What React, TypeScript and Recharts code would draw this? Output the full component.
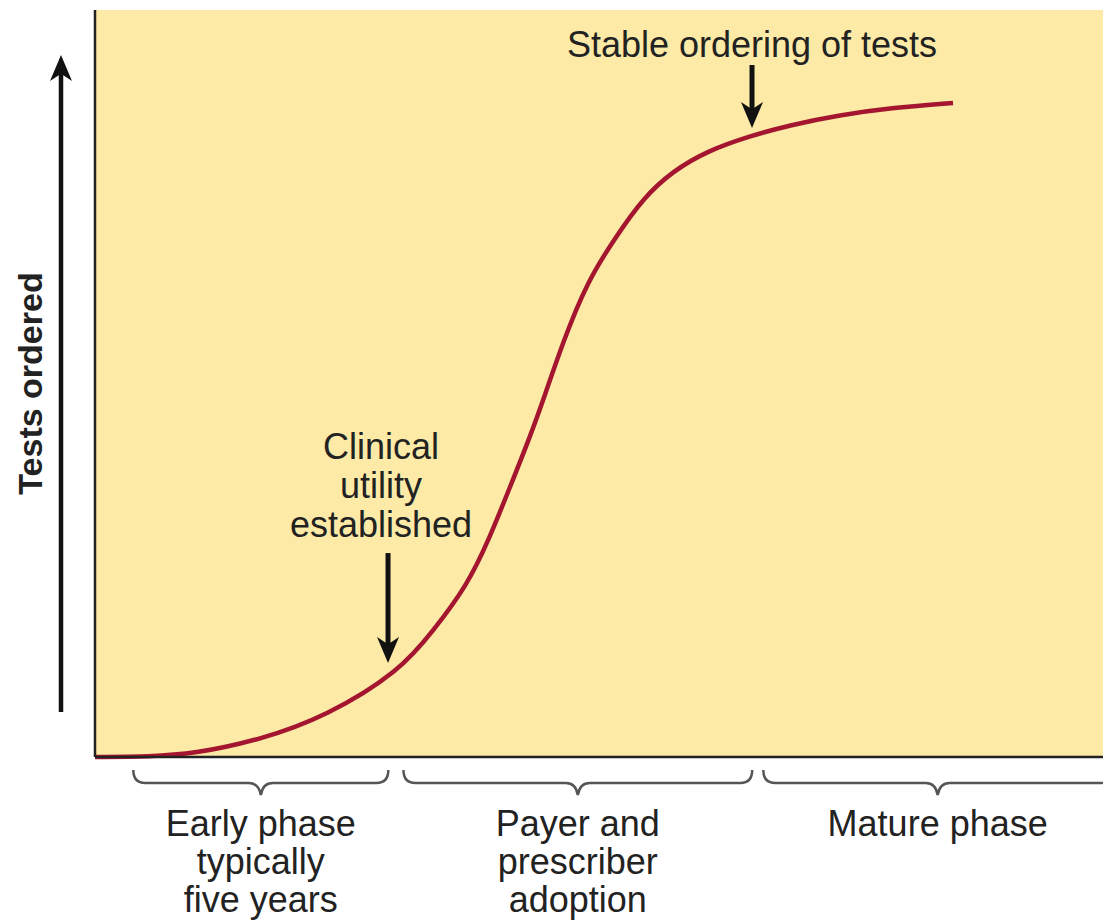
import { CartesianGrid, ComposedChart, Line, ReferenceLine, XAxis, YAxis } from "recharts"

// S-curve of test adoption (x: time, y: tests ordered, both 0-100)
const curveX = [0, 5.46, 9.72, 16.37, 23.02, 30.26, 33.53, 36.9, 39.19, 41.17, 43.15, 44.64, 46.43, 48.81, 51.59, 54.37, 57.34, 60.71, 64.98, 68.95, 73.91, 78.87, 85.12]
const curveY = [0, 0.07, 0.4, 2.28, 5.49, 11.51, 16.87, 22.89, 29.45, 36.14, 42.84, 48.46, 55.56, 63.59, 69.48, 74.83, 78.45, 81.12, 83.13, 84.6, 85.94, 86.88, 87.55]

// phases shown by braces under the time axis
const phaseLabels = [["Early phase", "typically", "five years"], ["Payer and", "prescriber", "adoption"], ["Mature phase"]]
const phaseStart = [3.8, 30.6, 66.3]
const phaseEnd = [29.1, 65.2, 100.9]
const phaseCenters = phaseStart.map((s, i) => (s + phaseEnd[i]) / 2)

// arrow call-outs on the curve
const noteLabels = [["Clinical", "utility", "established"], ["Stable ordering of tests"]]
const noteX = [29.07, 65.18]
const noteTail = [27.3, 92.64]
const noteTip = [12.58, 84.2]
const noteDx = [-7, 0]
const noteGap = [16, 8]

const data = curveX.map((x, i) => ({ x, y: curveY[i] }))

const FONT = "'Liberation Sans', Arial, Helvetica, sans-serif"
const INK = "#222"

function arrowHead(x: number, tipY: number, dir: 1 | -1) {
  // dir 1 = pointing down, -1 = pointing up
  const h = 26
  const w = 22
  return `M${x},${tipY} L${x - w / 2},${tipY - dir * h} L${x},${tipY - dir * h * 0.72} L${x + w / 2},${tipY - dir * h} Z`
}

function makeNote(i: number) {
  return (p: any) => {
    const lines = noteLabels[i]
    return (
      <g>
        <line x1={p.x1} y1={p.y1} x2={p.x2} y2={p.y2 - 18} stroke="#111" strokeWidth={5} />
        <path d={arrowHead(p.x2, p.y2, 1)} fill="#111" />
        <text textAnchor="middle" fontFamily={FONT} fontSize={36} fill={INK}>
          {lines.map((l, k) => (
            <tspan key={k} x={p.x1 + noteDx[i]} y={p.y1 - noteGap[i] - (lines.length - 1 - k) * 39}>
              {l}
            </tspan>
          ))}
        </text>
      </g>
    )
  }
}

const Brace = (p: any) => {
  const { x1, x2, y1 } = p
  const top = y1 + 13
  const mid = y1 + 26
  const tip = y1 + 38
  const c = (x1 + x2) / 2
  const d = `M${x1},${top} Q${x1},${mid} ${x1 + 12},${mid} L${c - 12},${mid} Q${c - 2},${mid} ${c},${tip} Q${c + 2},${mid} ${c + 12},${mid} L${x2 - 12},${mid} Q${x2},${mid} ${x2},${top}`
  return <path d={d} fill="none" stroke="#555" strokeWidth={2.5} />
}

const PhaseTick = (p: any) => {
  const i = phaseCenters.findIndex((c) => Math.abs(c - p.payload.value) < 1e-6)
  if (i < 0) return null
  return (
    <text textAnchor="middle" fontFamily={FONT} fontSize={36} fill={INK}>
      {phaseLabels[i].map((l, k) => (
        <tspan key={k} x={p.x} y={p.y + 71 + k * 38}>
          {l}
        </tspan>
      ))}
    </text>
  )
}

const YTitle = (p: any) => {
  const vb = p.viewBox || { x: 0, y: 10, width: 95, height: 747 }
  const cy = vb.y + vb.height / 2
  const ax = vb.x + 61
  const top = vb.y + 45
  const bottom = vb.y + vb.height - 45
  return (
    <g>
      <text
        x={vb.x + 42}
        y={cy}
        transform={`rotate(-90 ${vb.x + 42} ${cy})`}
        textAnchor="middle"
        fontFamily={FONT}
        fontSize={34}
        fontWeight="bold"
        fill={INK}
      >
        Tests ordered
      </text>
      <line x1={ax} y1={bottom} x2={ax} y2={top + 18} stroke="#111" strokeWidth={4.5} />
      <path d={arrowHead(ax, top, -1)} fill="#111" />
    </g>
  )
}

export default function App() {
  return (
    <div style={{ position: "absolute", left: 0, top: 0, width: 1103, height: 921, background: "#fff" }}>
      <ComposedChart width={1103} height={921} data={data} margin={{ top: 10, right: 0, bottom: 0, left: 0 }}>
        <CartesianGrid horizontal={false} vertical={false} fill="#FCEAA6" stroke="none" />
        <XAxis
          dataKey="x"
          type="number"
          domain={[0, 100]}
          ticks={phaseCenters}
          interval={0}
          height={164}
          tickLine={false}
          tick={PhaseTick}
          axisLine={{ stroke: "#222", strokeWidth: 2.5 }}
        />
        <YAxis
          type="number"
          domain={[0, 100]}
          width={95}
          tick={false}
          tickLine={false}
          axisLine={{ stroke: "#222", strokeWidth: 2.5 }}
          label={YTitle}
        />
        {phaseStart.map((s, i) => (
          <ReferenceLine
            key={`brace-${i}`}
            segment={[{ x: s, y: 0 }, { x: phaseEnd[i], y: 0 }]}
            ifOverflow="visible"
            shape={Brace}
          />
        ))}
        <Line
          type="basis"
          dataKey="y"
          stroke="#A4152F"
          strokeWidth={4.5}
          dot={false}
          activeDot={false}
          isAnimationActive={false}
        />
        {noteX.map((x, i) => (
          <ReferenceLine
            key={`note-${i}`}
            segment={[{ x, y: noteTail[i] }, { x, y: noteTip[i] }]}
            ifOverflow="visible"
            shape={makeNote(i)}
          />
        ))}
      </ComposedChart>
    </div>
  )
}
